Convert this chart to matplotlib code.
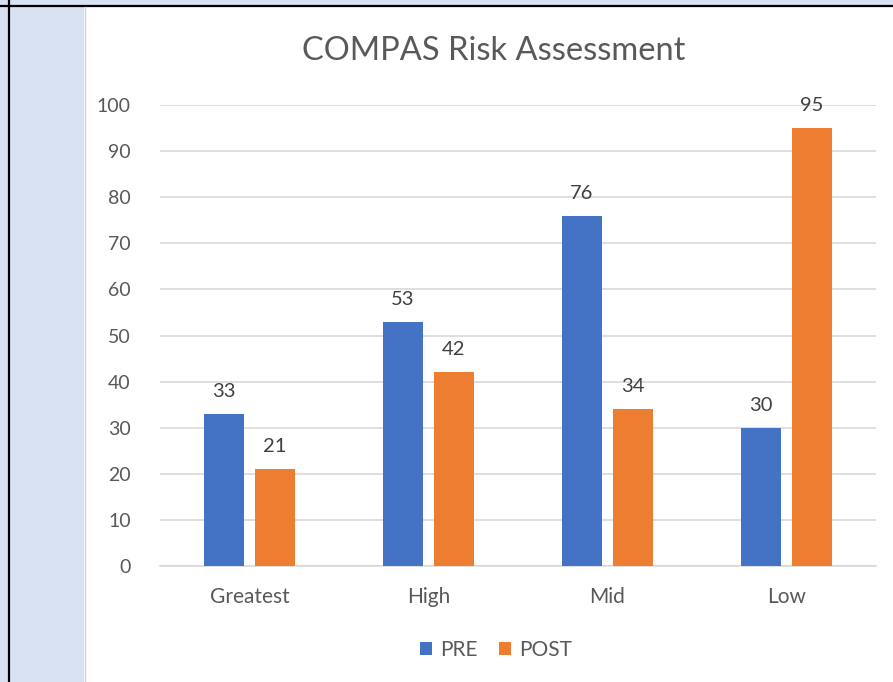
import matplotlib.pyplot as plt
from matplotlib.patches import Rectangle
from matplotlib.lines import Line2D
import numpy as np

categories = ['Greatest', 'High', 'Mid', 'Low']
pre = [33, 53, 76, 30]
post = [21, 42, 34, 95]
yticks = [0, 10, 20, 30, 40, 50, 60, 70, 80, 90, 100]

plt.rcParams['font.family'] = ['Lato', 'DejaVu Sans']

W, H = 893, 682
fig = plt.figure(figsize=(W / 100, H / 100), dpi=100)

# spreadsheet background behind the chart object
fig.patches.append(Rectangle((0, 0), 84 / W, 1, transform=fig.transFigure,
                             facecolor='#D9E2F3', edgecolor='none', zorder=0))
fig.patches.append(Rectangle((0, 1 - 6 / H), 1, 6 / H, transform=fig.transFigure,
                             facecolor='#D9E2F3', edgecolor='none', zorder=0))
fig.lines.append(Line2D([8.5 / W, 8.5 / W], [0, 1], transform=fig.transFigure,
                        color='black', lw=1.6))
fig.lines.append(Line2D([0, 1], [1 - 6 / H, 1 - 6 / H], transform=fig.transFigure,
                        color='black', lw=1.6))
fig.lines.append(Line2D([84.5 / W, 84.5 / W], [0, 1 - 7 / H], transform=fig.transFigure,
                        color='#D0D0D0', lw=1.0))

ax = fig.add_axes([160 / W, 1 - 566 / H, 716 / W, 461 / H])

x = np.arange(len(categories))
w = 0.225
gap = 0.03
b1 = ax.bar(x - w / 2 - gap, pre, w, color='#4472C4', label='PRE', zorder=3)
b2 = ax.bar(x + w / 2 + gap, post, w, color='#ED7D31', label='POST', zorder=3)

for bars in (b1, b2):
    for r in bars:
        ax.annotate(f'{int(r.get_height())}', (r.get_x() + r.get_width() / 2, r.get_height()),
                    xytext=(0, 10), textcoords='offset points', ha='center', va='bottom',
                    fontsize=14.5, color='#404040')

ax.set_xlim(-0.5, len(categories) - 0.5)
ax.set_ylim(0, 100)
ax.set_yticks(yticks)
ax.yaxis.grid(True, color='#D9D9D9', lw=1.2, zorder=0)
ax.set_xticks(x)
ax.set_xticklabels(categories, fontsize=15)
ax.tick_params(axis='both', length=0, labelsize=14, colors='#595959')
ax.tick_params(axis='x', labelsize=15, pad=15)
ax.tick_params(axis='y', pad=21)
for s in ['top', 'right', 'left']:
    ax.spines[s].set_visible(False)
ax.spines['bottom'].set_color('#D9D9D9')
ax.spines['bottom'].set_linewidth(1.2)

fig.text(494 / W, 1 - 51 / H, 'COMPAS Risk Assessment', ha='center', va='center',
         fontsize=23.5, color='#595959')

fig.legend(handles=[b1, b2], loc='center', bbox_to_anchor=(496 / W, 1 - 650 / H),
           ncol=2, frameon=False, fontsize=15, labelcolor='#595959',
           handlelength=0.6, handleheight=0.6, handletextpad=0.4, columnspacing=1.0)

fig.savefig('out.png', dpi=100)
